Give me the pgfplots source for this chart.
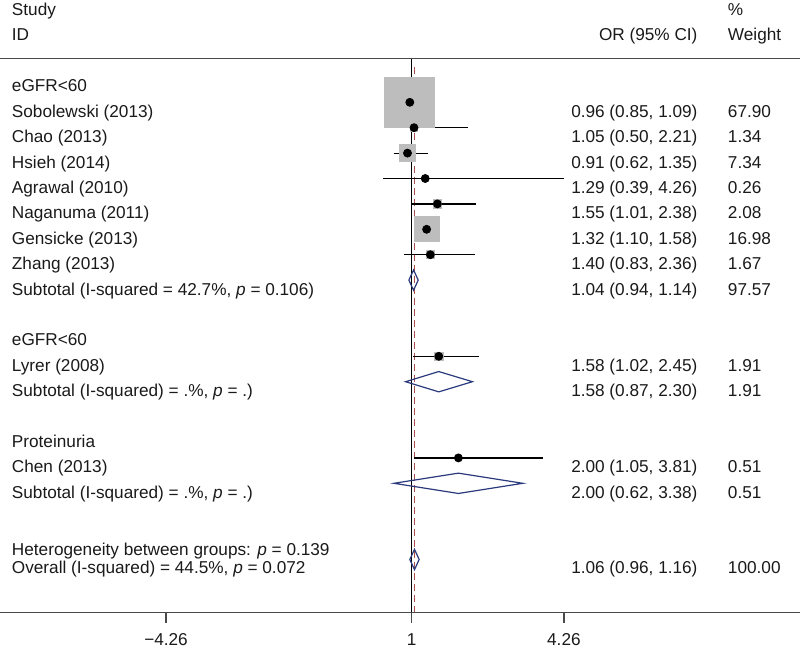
\documentclass[border=0pt]{standalone}
\usepackage{fontspec}
\setmainfont{Liberation Sans}
\usepackage{xcolor}
\usepackage{pgfplots}
\usepackage{pgfplotstable}
\pgfplotsset{compat=1.18}
\definecolor{boxgray}{HTML}{BDBDBD}
\definecolor{diamblue}{HTML}{2A3A7C}
\definecolor{refred}{HTML}{A8504E}
\definecolor{rulegray}{HTML}{4A4A4A}
\definecolor{ink}{HTML}{1A1A1A}

% row, OR, lower, upper, weight
\pgfplotstableread{
row or lo hi w
0 0.96 0.85 1.09 67.90
1 1.05 0.50 2.21 1.34
2 0.91 0.62 1.35 7.34
3 1.29 0.39 4.26 0.26
4 1.55 1.01 2.38 2.08
5 1.32 1.10 1.58 16.98
6 1.40 0.83 2.36 1.67
10 1.58 1.02 2.45 1.91
14 2.00 1.05 3.81 0.51
}\studies

\newcommand{\lx}{-7.56}
\newcommand{\rx}{7.12}
\newcommand{\wx}{7.773}
\newcommand{\frow}[4]{%
  \node[anchor=base west] at (axis cs:\lx,#1) {#2};
  \node[anchor=base east] at (axis cs:\rx,#1) {#3};
  \node[anchor=base west] at (axis cs:\wx,#1) {#4};}
\newcommand{\xtk}[2]{%
  \draw[rulegray, line width=0.6pt] (axis cs:#1,20.079) -- (axis cs:#1,20.512);
  \node[anchor=base] at (axis cs:#1,21.38) {#2};}

\begin{document}
\fontsize{8.6}{10.3}\selectfont
\color{ink}
\begin{tikzpicture}[every node/.style={inner sep=0pt, outer sep=0pt, text=ink}]
\begin{axis}[
  hide axis, scale only axis,
  width=400pt, height=325.5pt,
  xmin=-7.816, xmax=9.315,
  ymin=-4.028, ymax=21.602, y dir=reverse,
  clip=false,
]
% reference lines
\addplot[black, line width=0.6pt] coordinates {(1,-1.732) (1,20.079)};
\addplot[refred, line width=0.55pt, dash pattern=on 3.5pt off 2pt] coordinates {(1.06,-1.40) (1.06,20.079)};

% weight boxes
\addplot[scatter, only marks, mark=square*,
  scatter/use mapped color={draw=boxgray, fill=boxgray},
  visualization depends on={12.5*sqrt(\thisrow{w}/67.9) \as \msz},
  scatter/@pre marker code/.append style={/tikz/mark size=\msz pt}]
  table[x=or, y=row] {\studies};

% confidence intervals
\addplot[black, only marks, mark=none,
  error bars/.cd, x dir=both, x explicit, error mark=none,
  error bar style={black, line width=0.6pt}]
  table[x=or, y=row,
    x error plus expr=\thisrow{hi}-\thisrow{or},
    x error minus expr=\thisrow{or}-\thisrow{lo}] {\studies};

% point estimates
\addplot[only marks, mark=diamond*, mark size=1.7pt, mark options={xscale=1.3}, black]
  table[x=or, y=row] {\studies};

% pooled estimates
\addplot[diamblue, line width=0.6pt, line join=miter] coordinates {(0.94,7) (1.04,6.6) (1.14,7) (1.04,7.4)} -- cycle;
\addplot[diamblue, line width=0.6pt, line join=miter] coordinates {(0.87,11) (1.58,10.6) (2.30,11) (1.58,11.4)} -- cycle;
\addplot[diamblue, line width=0.6pt, line join=miter] coordinates {(0.62,15) (2.00,14.6) (3.38,15) (2.00,15.4)} -- cycle;
\addplot[diamblue, line width=0.6pt, line join=miter] coordinates {(0.96,18) (1.06,17.6) (1.16,18) (1.06,18.4)} -- cycle;

% rules and x axis
\draw[rulegray, line width=0.8pt] (axis cs:-7.816,-1.732) -- (axis cs:9.315,-1.732);
\draw[rulegray, line width=0.8pt] (axis cs:-7.816,20.079) -- (axis cs:9.315,20.079);
\xtk{-4.26}{−4.26}
\xtk{1}{1}
\xtk{4.26}{4.26}

% headers
\node[anchor=base west] at (axis cs:\lx,-3.437) {Study};
\node[anchor=base west] at (axis cs:\lx,-2.453) {ID};
\node[anchor=base east] at (axis cs:\rx,-2.453) {OR (95\% CI)};
\node[anchor=base west] at (axis cs:\wx,-3.437) {\%};
\node[anchor=base west] at (axis cs:\wx,-2.453) {Weight};

% rows
\node[anchor=base west] at (axis cs:\lx,-0.41) {eGFR<60};
\frow{0.59}{Sobolewski (2013)}{0.96 (0.85, 1.09)}{67.90}
\frow{1.59}{Chao (2013)}{1.05 (0.50, 2.21)}{1.34}
\frow{2.59}{Hsieh (2014)}{0.91 (0.62, 1.35)}{7.34}
\frow{3.59}{Agrawal (2010)}{1.29 (0.39, 4.26)}{0.26}
\frow{4.59}{Naganuma (2011)}{1.55 (1.01, 2.38)}{2.08}
\frow{5.59}{Gensicke (2013)}{1.32 (1.10, 1.58)}{16.98}
\frow{6.59}{Zhang (2013)}{1.40 (0.83, 2.36)}{1.67}
\frow{7.59}{Subtotal (I-squared = 42.7\%, \textit{p} = 0.106)}{1.04 (0.94, 1.14)}{97.57}
\node[anchor=base west] at (axis cs:\lx,9.59) {eGFR<60};
\frow{10.59}{Lyrer (2008)}{1.58 (1.02, 2.45)}{1.91}
\frow{11.59}{Subtotal (I-squared) = .\%, \textit{p} = .)}{1.58 (0.87, 2.30)}{1.91}
\node[anchor=base west] at (axis cs:\lx,13.59) {Proteinuria};
\frow{14.59}{Chen (2013)}{2.00 (1.05, 3.81)}{0.51}
\frow{15.59}{Subtotal (I-squared) = .\%, \textit{p} = .)}{2.00 (0.62, 3.38)}{0.51}
\node[anchor=base west] at (axis cs:\lx,17.86) {Heterogeneity between groups: \textit{p} = 0.139};
\frow{18.56}{Overall (I-squared) = 44.5\%, \textit{p} = 0.072}{1.06 (0.96, 1.16)}{100.00}
\end{axis}
\pgfresetboundingbox
\useasboundingbox (0,0) rectangle (400pt,325.5pt);
\end{tikzpicture}
\end{document}
